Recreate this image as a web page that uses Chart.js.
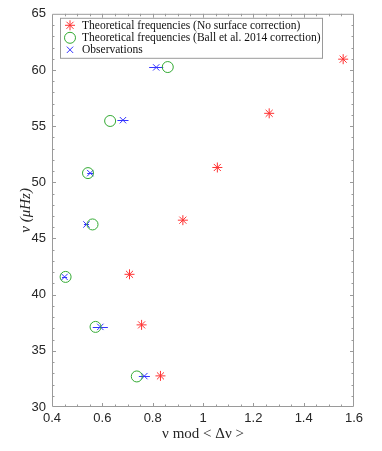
<!DOCTYPE html>
<html lang="en">
  <head>
    <meta charset="UTF-8" />
    <title>Echelle diagram</title>
    <script src="https://cdn.jsdelivr.net/npm/chart.js"></script>
    <style>
      html, body { margin: 0; padding: 0; background: #fff; }
      #wrap { width: 382px; height: 451px; }
    </style>
  </head>
  <body>
    <div id="wrap"><canvas id="echelleChart" width="382" height="451"></canvas></div>
    <script>
      // theoretical frequencies, no surface correction
      const noCorrX = [1.557, 1.263, 1.057, 0.920, 0.708, 0.756, 0.831];
      const noCorrY = [60.96, 56.14, 51.32, 46.63, 41.81, 37.31, 32.77];
      // theoretical frequencies, Ball et al. 2014 correction
      const ballX = [0.860, 0.631, 0.543, 0.561, 0.454, 0.573, 0.737];
      const ballY = [60.26, 55.46, 50.82, 46.25, 41.58, 37.13, 32.72];
      // observations with horizontal error
      const obsX = [0.814, 0.682, 0.552, 0.537, 0.450, 0.592, 0.767];
      const obsY = [60.23, 55.53, 50.82, 46.25, 41.58, 37.13, 32.75];
      const obsErr = [0.028, 0.022, 0.012, 0.010, 0.010, 0.030, 0.022];

      const legendLabels = [
        "Theoretical frequencies (No surface correction)",
        "Theoretical frequencies (Ball et al. 2014 correction)",
        "Observations",
      ];
      const xTicks = [0.4, 0.6, 0.8, 1, 1.2, 1.4, 1.6];
      const yTicks = [30, 35, 40, 45, 50, 55, 60, 65];

      const toPoints = (xs, ys) => xs.map((x, i) => ({ x: x, y: ys[i] }));

      const axisColor = "#9a9a9a";
      const serif = "'Liberation Serif', 'DejaVu Serif', serif";
      const sans = "'Liberation Sans', Arial, sans-serif";

      // inward minor/major ticks on all four sides, like a boxed plot
      const boxTicks = {
        id: "boxTicks",
        afterDraw(chart) {
          const ctx = chart.ctx;
          const xs = chart.scales.x, ys = chart.scales.y;
          const a = chart.chartArea;
          ctx.save();
          ctx.strokeStyle = axisColor;
          ctx.lineWidth = 1;
          ctx.beginPath();
          ctx.rect(a.left + 0.5, a.top + 0.5, a.right - a.left - 1, a.bottom - a.top - 1);
          ctx.stroke();
          for (let v = 0.45; v < 1.6; v += 0.05) {
            const px = Math.round(xs.getPixelForValue(v)) + 0.5;
            const major = xTicks.some((t) => Math.abs(t - v) < 1e-6);
            const len = major ? 4 : 2.5;
            ctx.beginPath();
            ctx.moveTo(px, a.bottom);
            ctx.lineTo(px, a.bottom - len);
            ctx.moveTo(px, a.top);
            ctx.lineTo(px, a.top + len);
            ctx.stroke();
          }
          for (let v = 31; v < 65; v += 1) {
            const py = Math.round(ys.getPixelForValue(v)) + 0.5;
            const major = v % 5 === 0;
            const len = major ? 4 : 2.5;
            ctx.beginPath();
            ctx.moveTo(a.left, py);
            ctx.lineTo(a.left + len, py);
            ctx.moveTo(a.right, py);
            ctx.lineTo(a.right - len, py);
            ctx.stroke();
          }
          ctx.restore();
        },
      };

      // horizontal error bars on the observations
      const errorBars = {
        id: "errorBars",
        beforeDatasetsDraw(chart) {
          const ctx = chart.ctx;
          const xs = chart.scales.x, ys = chart.scales.y;
          ctx.save();
          ctx.strokeStyle = "#3333ff";
          ctx.lineWidth = 1;
          obsX.forEach((x, i) => {
            const py = Math.round(ys.getPixelForValue(obsY[i])) + 0.5;
            ctx.beginPath();
            ctx.moveTo(xs.getPixelForValue(x - obsErr[i]), py);
            ctx.lineTo(xs.getPixelForValue(x + obsErr[i]), py);
            ctx.stroke();
          });
          ctx.restore();
        },
      };

      // legend box in the upper left corner of the plot
      const boxLegend = {
        id: "boxLegend",
        afterDraw(chart) {
          const ctx = chart.ctx;
          const a = chart.chartArea;
          const left = a.left + 8, top = a.top + 4;
          const w = 262, h = 40;
          ctx.save();
          ctx.fillStyle = "#fff";
          ctx.fillRect(left, top, w, h);
          ctx.strokeStyle = axisColor;
          ctx.lineWidth = 1;
          ctx.strokeRect(left + 0.5, top + 0.5, w, h);
          ctx.font = "11.5px " + serif;
          ctx.textBaseline = "middle";
          const rows = [top + 7.5, top + 20, top + 32];
          chart.data.datasets.forEach((ds, i) => {
            ctx.strokeStyle = ds.borderColor;
            ctx.fillStyle = ds.backgroundColor;
            ctx.lineWidth = 1;
            Chart.helpers.drawPoint(ctx, {
              pointStyle: ds.pointStyle,
              radius: ds.pointRadius,
              borderWidth: 1,
            }, left + 10, rows[i]);
            ctx.fillStyle = "#111";
            ctx.fillText(legendLabels[i], left + 22, rows[i] + 0.5);
          });
          ctx.restore();
        },
      };

      const chartData = {
        datasets: [
          {
            label: legendLabels[0],
            data: toPoints(noCorrX, noCorrY),
            pointStyle: "star",
            pointRadius: 5,
            borderColor: "#ff3333",
            backgroundColor: "#ff3333",
            borderWidth: 1,
          },
          {
            label: legendLabels[1],
            data: toPoints(ballX, ballY),
            pointStyle: "circle",
            pointRadius: 5.5,
            borderColor: "#33aa33",
            backgroundColor: "rgba(0,0,0,0)",
            borderWidth: 1,
          },
          {
            label: legendLabels[2],
            data: toPoints(obsX, obsY),
            pointStyle: "crossRot",
            pointRadius: 4.5,
            borderColor: "#3333ff",
            backgroundColor: "#3333ff",
            borderWidth: 1,
          },
        ],
      };

      const chartOptions = {
        responsive: false,
        animation: false,
        layout: { padding: { top: 8, right: 28, left: 0, bottom: 0 } },
        plugins: { legend: { display: false }, tooltip: { enabled: false } },
        scales: {
          x: {
            type: "linear",
            min: 0.4,
            max: 1.6,
            afterBuildTicks: (s) => { s.ticks = xTicks.map((v) => ({ value: v })); },
            afterFit: (s) => { s.height = 44; },
            grid: { display: false, drawTicks: false },
            border: { display: false },
            ticks: {
              color: "#262626",
              padding: 4,
              font: { family: sans, size: 13 },
              callback: (v) => String(v),
            },
            title: {
              display: true,
              text: "\u03bd mod < \u0394\u03bd >",
              color: "#262626",
              font: { family: serif, size: 15 },
              padding: { top: 0, bottom: 8 },
            },
          },
          y: {
            type: "linear",
            min: 30,
            max: 65,
            afterBuildTicks: (s) => { s.ticks = yTicks.map((v) => ({ value: v })); },
            afterFit: (s) => { s.width = 52; },
            grid: { display: false, drawTicks: false },
            border: { display: false },
            ticks: {
              color: "#262626",
              padding: 6,
              font: { family: sans, size: 13 },
            },
            title: {
              display: true,
              text: "\u03bd (\u03bcHz)",
              color: "#262626",
              font: { family: serif, size: 15, style: "italic" },
              padding: { top: 17, bottom: 0 },
            },
          },
        },
      };

      const ctx = document.getElementById("echelleChart").getContext("2d");
      new Chart(ctx, {
        type: "scatter",
        data: chartData,
        options: chartOptions,
        plugins: [boxTicks, errorBars, boxLegend],
      });
    </script>
  </body>
</html>
